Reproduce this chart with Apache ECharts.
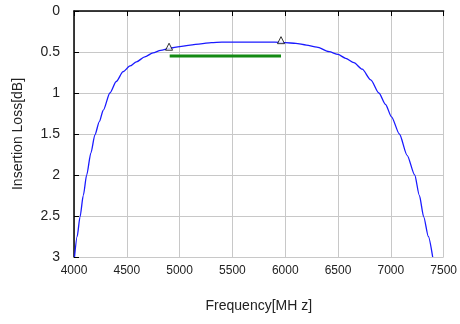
<!DOCTYPE html>
<html>
<head>
<meta charset="utf-8">
<script src="https://cdn.jsdelivr.net/npm/echarts@6/dist/echarts.min.js"></script>
<style>html,body{margin:0;padding:0;background:#fff}#c{width:460px;height:324px}</style>
</head>
<body>
<div id="c"></div>
<script>
var freq = [4005,4030,4057,4088,4120,4160,4198,4240,4277,4340,4400,4465,4530,4591,4670,4748,4820,4906,5000,5100,5200,5300,5400,5500,5600,5700,5800,5900,6000,6100,6200,6300,6415,6500,6572,6650,6729,6810,6887,6950,7006,7081,7154,7226,7270,7311,7355,7396];
var loss = [3.0,2.75,2.51,2.25,2.0,1.73,1.51,1.35,1.21,1.0,0.86,0.74,0.67,0.62,0.56,0.51,0.48,0.455,0.435,0.415,0.40,0.385,0.38,0.38,0.38,0.38,0.38,0.38,0.385,0.395,0.415,0.44,0.496,0.53,0.577,0.63,0.71,0.84,1.0,1.14,1.29,1.5,1.76,2.0,2.25,2.51,2.75,3.0];
var markerFreq = [4900,5960];
var markerLoss = [0.46,0.38];
var specFreq = [4906,5960];
var specLoss = [0.55,0.55];
var xTicks = ['4000','4500','5000','5500','6000','6500','7000','7500'];

var curve = freq.map(function(f,i){return [f,loss[i]];});
var markers = markerFreq.map(function(f,i){return [f,markerLoss[i]];});
var spec = specFreq.map(function(f,i){return [f,specLoss[i]];});

var chart = echarts.init(document.getElementById('c'), null, {renderer:'canvas'});
chart.setOption({
  animation:false,
  grid:{left:74,right:15,top:11,bottom:67},
  xAxis:{
    type:'value',min:4000,max:7500,interval:500,
    name:'Frequency[MH z]',nameLocation:'middle',nameGap:42,
    nameTextStyle:{fontFamily:'Liberation Sans',fontSize:14,color:'#222'},
    axisLine:{lineStyle:{color:'#000',width:1.5}},
    axisTick:{show:true,inside:false,length:5,lineStyle:{color:'#000'}},
    axisLabel:{fontFamily:'Liberation Sans',fontSize:12,color:'#222',margin:8,
      formatter:function(v){var i=Math.round((v-4000)/500);return xTicks[i]!==undefined?xTicks[i]:String(v);}},
    splitLine:{show:true,lineStyle:{color:'#c8c8c8',width:1}}
  },
  yAxis:{
    type:'value',min:0,max:3,interval:0.5,inverse:true,
    name:'Insertion Loss[dB]',nameLocation:'middle',nameGap:49,
    nameTextStyle:{fontFamily:'Liberation Sans',fontSize:14,color:'#222'},
    axisLine:{show:true,lineStyle:{color:'#000',width:1.5}},
    axisTick:{show:true,inside:true,length:5,lineStyle:{color:'#000'}},
    axisLabel:{fontFamily:'Liberation Sans',fontSize:14,color:'#222',margin:14},
    splitLine:{show:true,lineStyle:{color:'#c8c8c8',width:1}}
  },
  series:[
    {type:'line',data:curve,showSymbol:false,smooth:0.25,smoothMonotone:'x',lineStyle:{color:'#1a1aff',width:1.3},z:3},
    {type:'line',data:spec,showSymbol:false,lineStyle:{color:'#138a13',width:3},z:2},
    {type:'scatter',data:markers,symbol:'triangle',symbolSize:7,symbolOffset:[0,-2],itemStyle:{color:'#fff',borderColor:'#000',borderWidth:1},z:4}
  ]
});
</script>
</body>
</html>
